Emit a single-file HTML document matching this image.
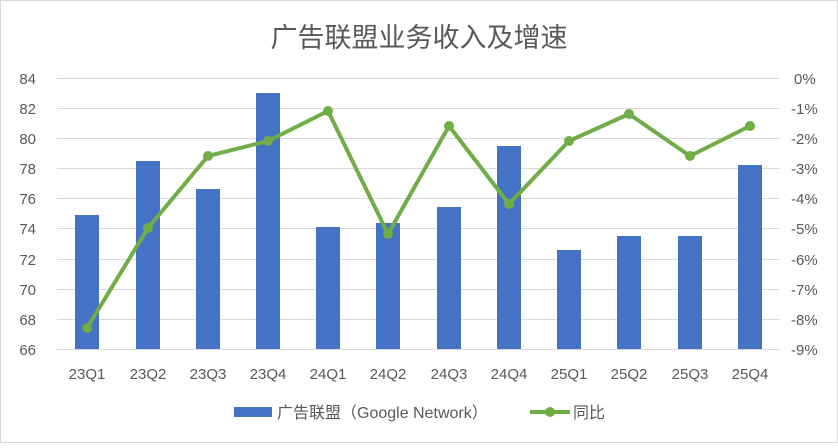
<!DOCTYPE html>
<html><head><meta charset="utf-8"><style>
body{margin:0;background:#fff}
svg text{font-family:"Liberation Sans","Noto Sans CJK SC",sans-serif;fill:#595959}
</style></head><body>
<svg width="838" height="443" xmlns="http://www.w3.org/2000/svg">
<rect x="0.5" y="0.5" width="837" height="442" fill="#fff" stroke="#d9d9d9"/>
<text x="419" y="47" font-size="27" text-anchor="middle">广告联盟业务收入及增速</text>
<g stroke="#d9d9d9" stroke-width="1">
<line x1="57" x2="780" y1="78.5" y2="78.5"/><line x1="57" x2="780" y1="108.5" y2="108.5"/>
<line x1="57" x2="780" y1="138.5" y2="138.5"/><line x1="57" x2="780" y1="168.5" y2="168.5"/>
<line x1="57" x2="780" y1="198.5" y2="198.5"/><line x1="57" x2="780" y1="228.5" y2="228.5"/>
<line x1="57" x2="780" y1="259.5" y2="259.5"/><line x1="57" x2="780" y1="289.5" y2="289.5"/>
<line x1="57" x2="780" y1="319.5" y2="319.5"/><line x1="57" x2="780" y1="349.5" y2="349.5"/>
</g>
<g font-size="15" text-anchor="end">
<text x="36" y="84">84</text><text x="36" y="114">82</text><text x="36" y="144">80</text>
<text x="36" y="174">78</text><text x="36" y="204">76</text><text x="36" y="234">74</text>
<text x="36" y="265">72</text><text x="36" y="295">70</text><text x="36" y="325">68</text>
<text x="36" y="355">66</text>
</g>
<g font-size="15" text-anchor="start">
<text x="794" y="84">0%</text><text x="791" y="114">-1%</text><text x="791" y="144">-2%</text>
<text x="791" y="174">-3%</text><text x="791" y="204">-4%</text><text x="791" y="234">-5%</text>
<text x="791" y="265">-6%</text><text x="791" y="295">-7%</text><text x="791" y="325">-8%</text>
<text x="791" y="355">-9%</text>
</g>
<g fill="#4472c4">
<rect x="75" y="215" width="24" height="134"/><rect x="136" y="161" width="24" height="188"/>
<rect x="196" y="189" width="24" height="160"/><rect x="256" y="93" width="24" height="256"/>
<rect x="316" y="227" width="24" height="122"/><rect x="376" y="223" width="24" height="126"/>
<rect x="437" y="207" width="24" height="142"/><rect x="497" y="146" width="24" height="203"/>
<rect x="557" y="250" width="24" height="99"/><rect x="617" y="236" width="24" height="113"/>
<rect x="678" y="236" width="24" height="113"/><rect x="738" y="165" width="24" height="184"/>
</g>
<polyline fill="none" stroke="#70ad47" stroke-width="4" stroke-linejoin="round" points="87,328 148,228 208,156 268,141 328,111 388,234 449,126 509,204 569,141 629,114 690,156 750,126"/>
<g fill="#70ad47">
<circle cx="87" cy="328" r="5"/><circle cx="148" cy="228" r="5"/><circle cx="208" cy="156" r="5"/>
<circle cx="268" cy="141" r="5"/><circle cx="328" cy="111" r="5"/><circle cx="388" cy="234" r="5"/>
<circle cx="449" cy="126" r="5"/><circle cx="509" cy="204" r="5"/><circle cx="569" cy="141" r="5"/>
<circle cx="629" cy="114" r="5"/><circle cx="690" cy="156" r="5"/><circle cx="750" cy="126" r="5"/>
</g>
<g font-size="15" text-anchor="middle">
<text x="87" y="379">23Q1</text><text x="148" y="379">23Q2</text><text x="208" y="379">23Q3</text>
<text x="268" y="379">23Q4</text><text x="328" y="379">24Q1</text><text x="388" y="379">24Q2</text>
<text x="449" y="379">24Q3</text><text x="509" y="379">24Q4</text><text x="569" y="379">25Q1</text>
<text x="629" y="379">25Q2</text><text x="690" y="379">25Q3</text><text x="750" y="379">25Q4</text>
</g>
<rect x="234" y="407" width="38" height="10" fill="#4472c4"/>
<text x="277" y="418" font-size="16">广告联盟（Google Network）</text>
<line x1="530" x2="570" y1="412" y2="412" stroke="#70ad47" stroke-width="4"/>
<circle cx="550" cy="412" r="5" fill="#70ad47"/>
<text x="573" y="418" font-size="16">同比</text>
</svg>
</body></html>
